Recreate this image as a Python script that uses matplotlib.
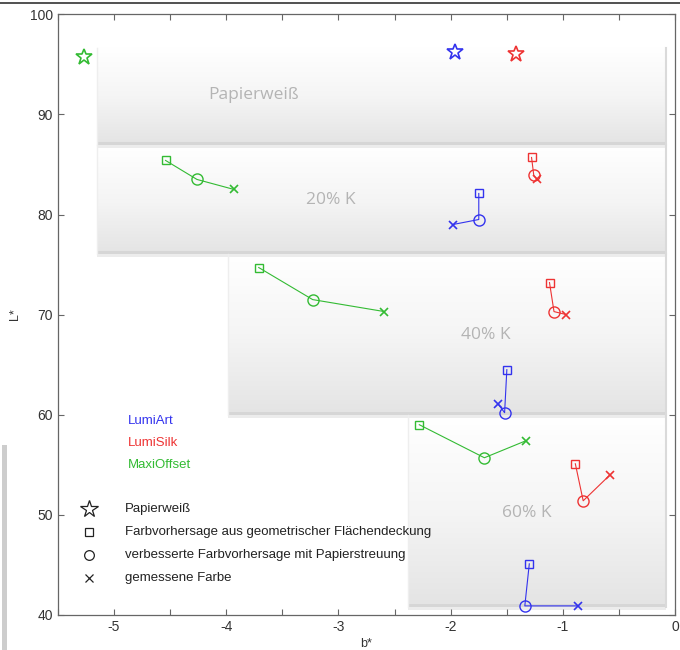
import numpy as np
import matplotlib
matplotlib.use("Agg")
import matplotlib.pyplot as plt
from matplotlib.colors import LinearSegmentedColormap
from matplotlib.patches import Rectangle

plt.rcParams["font.family"] = ["Liberation Sans", "DejaVu Sans"]

# Papierweiss (star)
paper_b = [-1.96, -1.42, -5.27]
paper_L = [96.2, 96.0, 95.7]

# per paper: values for 20%, 40%, 60% K
# each step: [square (geometric), circle (improved), x (measured)]
lumiart_b = [[-1.75, -1.75, -1.98], [-1.50, -1.52, -1.58], [-1.30, -1.34, -0.87]]
lumiart_L = [[82.1, 79.5, 79.0], [64.5, 60.2, 61.1], [45.1, 40.9, 40.9]]
lumisilk_b = [[-1.28, -1.26, -1.23], [-1.12, -1.08, -0.97], [-0.89, -0.82, -0.58]]
lumisilk_L = [[85.7, 83.9, 83.5], [73.2, 70.3, 70.0], [55.1, 51.4, 54.0]]
maxi_b = [[-4.54, -4.26, -3.93], [-3.71, -3.23, -2.59], [-2.28, -1.70, -1.33]]
maxi_L = [[85.4, 83.5, 82.5], [74.7, 71.5, 70.3], [59.0, 55.7, 57.4]]

paper_names = ["LumiArt", "LumiSilk", "MaxiOffset"]
paper_colors = ["#3333ee", "#ee3333", "#33bb33"]

# background panels: label, b range, L range, label position
panel_labels = ["Papierweiß", "20% K", "40% K", "60% K"]
panel_b = [(-5.15, -0.08), (-5.15, -0.08), (-3.98, -0.08), (-2.38, -0.08)]
panel_L = [(86.9, 96.6), (76.1, 86.9), (60.0, 76.1), (40.8, 60.0)]
label_pos = [(-3.76, 91.9), (-3.07, 81.4), (-1.69, 68.0), (-1.32, 50.2)]

legend_markers = ["*", "s", "o", "x"]
legend_texts = [
    "Papierweiß",
    "Farbvorhersage aus geometrischer Flächendeckung",
    "verbesserte Farbvorhersage mit Papierstreuung",
    "gemessene Farbe",
]

fig = plt.figure(figsize=(6.8, 6.5), dpi=100)
ax = fig.add_axes([0.085, 0.054, 0.908, 0.924])
ax.set_xlim(-5.5, 0)
ax.set_ylim(40, 100)

grad = LinearSegmentedColormap.from_list("panel", ["#ffffff", "#f5f5f5", "#e4e4e4"])
g = np.linspace(0, 1, 100).reshape(-1, 1)
for (b0, b1), (l0, l1) in zip(panel_b, panel_L):
    ax.imshow(g, extent=(b0, b1, l0, l1), cmap=grad, aspect="auto",
              interpolation="bicubic", zorder=0.5, origin="upper")
    ax.add_patch(Rectangle((b0, l0), b1 - b0, 0.3, color="#d6d6d6", lw=0, zorder=0.6))
    ax.add_patch(Rectangle((b0, l0 - 0.3), b1 - b0, 0.3, color="#ececec", lw=0, zorder=0.6))
    ax.plot([b0, b0], [l0, l1], color="#eeeeee", lw=1, zorder=0.6)
    ax.plot([b1, b1], [l0, l1], color="#dadada", lw=1.5, zorder=0.6)

for text, (x, y) in zip(panel_labels, label_pos):
    ax.text(x, y, text, color="#b4b4b4", fontsize=12.5, ha="center", va="center",
            zorder=1, family=["Open Sans", "DejaVu Sans"])

for bs, Ls, col in zip([lumiart_b, lumisilk_b, maxi_b], [lumiart_L, lumisilk_L, maxi_L], paper_colors):
    for b, L in zip(bs, Ls):
        ax.plot(b, L, color=col, lw=0.8, zorder=2)
        ax.plot(b[0], L[0], "s", color=col, ms=6, mfc="none", mew=1, zorder=3)
        ax.plot(b[1], L[1], "o", color=col, ms=8, mfc="none", mew=1, zorder=3)
        ax.plot(b[2], L[2], "x", color=col, ms=6, mew=1.2, zorder=3)

for b, L, col in zip(paper_b, paper_L, paper_colors):
    ax.plot(b, L, "*", color=col, ms=12, mfc="none", mew=1.2, zorder=3)

# legend text (paper names)
for i, (name, col) in enumerate(zip(paper_names, paper_colors)):
    ax.text(-4.88, 59.4 - i * 2.2, name, color=col, fontsize=9.5, va="center")

for i, (m, t) in enumerate(zip(legend_markers, legend_texts)):
    y = 50.6 - i * 2.3
    ms = 13 if m == "*" else (7 if m == "o" else 6)
    ax.plot(-5.22, y, m, color="#222222", ms=ms, mfc="none", mew=0.9)
    ax.text(-4.9, y, t, color="#222222", fontsize=9.5, va="center")

xt = np.arange(-5.5, 0.01, 0.5)
ax.set_xticks(xt)
ax.set_xticklabels(["" if abs(v - round(v)) > 1e-6 else f"{int(round(v))}" for v in xt])
ax.set_yticks(np.arange(40, 101, 10))
ax.tick_params(direction="in", top=True, right=True, length=4, width=0.8,
               color="#666666", labelcolor="#333333", labelsize=10)
for s in ax.spines.values():
    s.set_color("#666666")
    s.set_linewidth(0.9)
ax.set_xlabel("b*", fontsize=9, color="#333333", labelpad=3)
ax.set_ylabel("L*", fontsize=9, color="#333333", labelpad=6)

# screenshot framing
fig.add_artist(plt.Line2D([0, 1], [0.995, 0.995], color="#333333", lw=1.2))
fig.add_artist(Rectangle((0.003, 0.0), 0.008, 0.315, color="#b8b8b8", lw=0, alpha=0.7))

fig.savefig("out.png", dpi=100)
